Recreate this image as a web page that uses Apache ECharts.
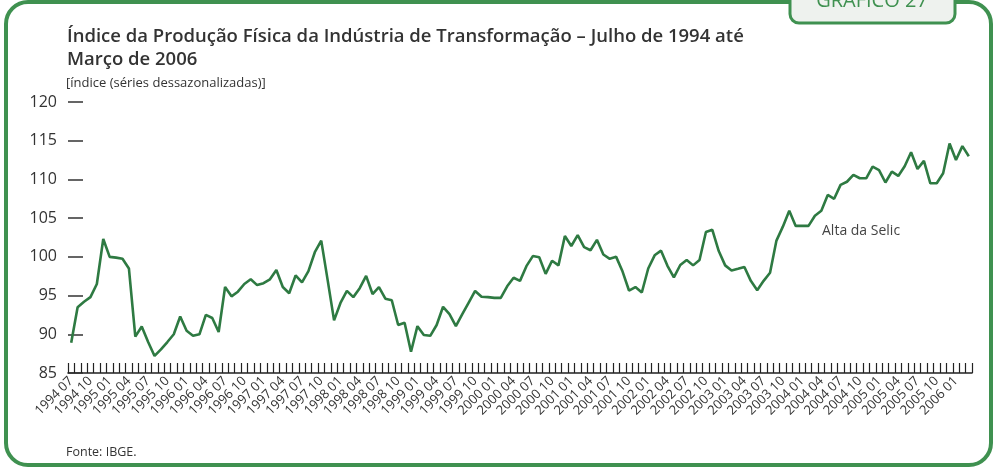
<!DOCTYPE html>
<html>
<head>
<meta charset="utf-8">
<title>Índice da Produção Física da Indústria de Transformação</title>
<script src="https://cdn.jsdelivr.net/npm/echarts@6/dist/echarts.min.js"></script>
<style>
  html, body { margin: 0; padding: 0; background: #fff; }
  #chart { width: 997px; height: 471px; }
</style>
</head>
<body>
<div id="chart"></div>
<script>
// serie mensal dessazonalizada, jul/1994 a mar/2006
const startYear = 1994;
const startMonth = 7;
const producao = [
  88.9, 93.5, 94.2, 94.8, 96.5, 102.3, 100.0, 99.9, 99.75, 98.5,
  89.7, 91.0, 89.0, 87.2, 88.05, 89.0, 90.0, 92.3, 90.45, 89.8,
  90.0, 92.5, 92.1, 90.3, 96.1, 94.9, 95.5, 96.5, 97.1, 96.35,
  96.6, 97.1, 98.3, 96.1, 95.3, 97.6, 96.7, 98.15, 100.6, 102.1,
  97.0, 91.8, 94.05, 95.6, 94.8, 95.95, 97.55, 95.2, 96.1, 94.6,
  94.4, 91.2, 91.5, 87.75, 91.05, 89.9, 89.8, 91.2, 93.55, 92.6,
  91.05, 92.6, 94.1, 95.6, 94.85, 94.8, 94.7, 94.7, 96.2, 97.3,
  96.9, 98.8, 100.1, 99.95, 97.8, 99.5, 98.9, 102.7, 101.4, 102.8,
  101.25, 100.85, 102.2, 100.3, 99.75, 100.0, 98.1, 95.65, 96.1, 95.4,
  98.5, 100.2, 100.8, 98.85, 97.35, 98.95, 99.6, 98.9, 99.6, 103.2,
  103.5, 100.75, 98.9, 98.25, 98.45, 98.7, 96.9, 95.7, 96.9, 97.95,
  102.1, 103.9, 105.95, 104.0, 104.0, 104.0, 105.3, 105.95, 108.0, 107.5,
  109.3, 109.7, 110.6, 110.15, 110.15, 111.65, 111.2, 109.6, 111.0, 110.45,
  111.7, 113.5, 111.35, 112.4, 109.5, 109.5, 110.8, 114.65, 112.5, 114.3,
  113.0
];
const yTicks = { min: 85, max: 120, step: 5 };
const nota = "Alta da Selic";

const meses = producao.map((v, i) => {
  const m = startMonth - 1 + i;
  const ano = startYear + Math.floor(m / 12);
  const mes = (m % 12) + 1;
  return ano + " " + (mes < 10 ? "0" + mes : "" + mes);
});

const verde = "#3f9150";
const fonte = "'Open Sans', 'Noto Sans', sans-serif";

const chart = echarts.init(document.getElementById("chart"), null, { renderer: "canvas" });

const option = {
  backgroundColor: "#fff",
  animation: false,
  textStyle: { fontFamily: fonte },
  grid: {
    left: 68,
    right: 25,
    top: 102,
    bottom: 98,
    containLabel: false
  },
  xAxis: {
    type: "category",
    data: meses,
    boundaryGap: true,
    axisLine: { show: true, lineStyle: { color: "#222", width: 1.6 } },
    axisTick: {
      show: true,
      inside: true,
      length: 10,
      interval: 0,
      alignWithLabel: false,
      lineStyle: { color: "#222", width: 1.2 }
    },
    axisLabel: {
      interval: (i) => i % 3 === 0,
      showMinLabel: true,
      hideOverlap: false,
      rotate: 45,
      margin: 6,
      fontSize: 13,
      color: "#333",
      fontFamily: fonte
    },
    splitLine: { show: false }
  },
  yAxis: {
    type: "value",
    min: yTicks.min,
    max: yTicks.max,
    interval: yTicks.step,
    axisLine: { show: false },
    axisTick: {
      show: true,
      inside: true,
      length: 15,
      lineStyle: { color: "#333", width: 1.5 }
    },
    axisLabel: {
      margin: 11,
      fontSize: 16,
      color: "#333",
      fontFamily: fonte
    },
    splitLine: { show: false }
  },
  series: [
    {
      type: "line",
      data: producao,
      symbol: "none",
      lineStyle: { color: "#2e7a42", width: 2.6 },
      z: 3
    }
  ],
  graphic: [
    {
      type: "rect",
      shape: { x: 6, y: 2, width: 985, height: 463, r: 22 },
      style: { fill: "none", stroke: verde, lineWidth: 4 },
      silent: true
    },
    {
      type: "rect",
      shape: { x: 790, y: -12, width: 165, height: 35, r: [0, 0, 9, 9] },
      style: { fill: "#eef2ee", stroke: verde, lineWidth: 3 },
      silent: true
    },
    {
      type: "text",
      x: 872,
      y: 11,
      style: {
        text: "GRÁFICO 27",
        fill: verde,
        font: "20px " + fonte,
        textAlign: "center",
        textVerticalAlign: "bottom"
      },
      silent: true
    },
    {
      type: "text",
      x: 67,
      y: 25,
      style: {
        text: "Índice da Produção Física da Indústria de Transformação – Julho de 1994 até\nMarço de 2006",
        fill: "#333",
        font: "600 18.5px " + fonte,
        lineHeight: 23
      },
      silent: true
    },
    {
      type: "text",
      x: 66,
      y: 77,
      style: {
        text: "[índice (séries dessazonalizadas)]",
        fill: "#333",
        font: "13px " + fonte
      },
      silent: true
    },
    {
      type: "text",
      x: 822,
      y: 224,
      style: {
        text: nota,
        fill: "#444",
        font: "14px " + fonte
      },
      silent: true
    },
    {
      type: "text",
      x: 66,
      y: 446,
      style: {
        text: "Fonte: IBGE.",
        fill: "#333",
        font: "12.5px " + fonte
      },
      silent: true
    }
  ]
};

chart.setOption(option);
</script>
</body>
</html>
